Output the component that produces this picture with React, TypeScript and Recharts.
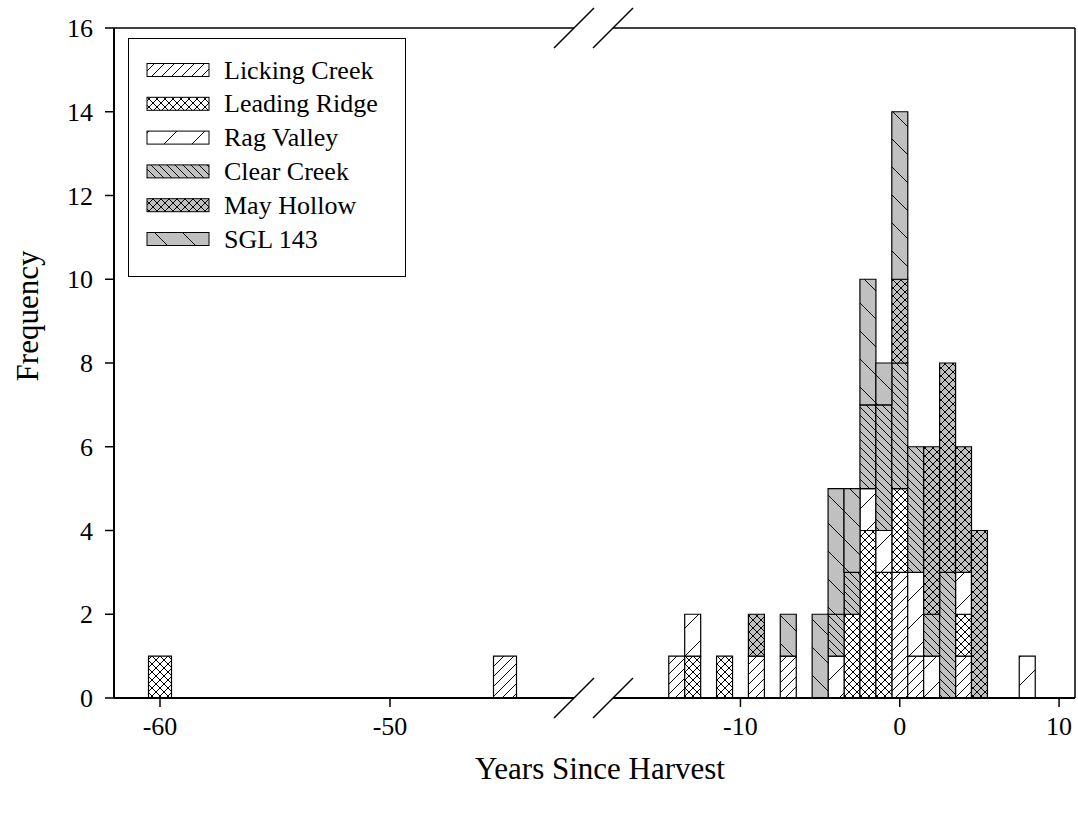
import React from "react";
import { BarChart, Bar, XAxis, YAxis, ReferenceLine } from "recharts";

// one-year bins, split into an early segment and a recent segment (broken x axis)
const farYears = [-60, -59, -58, -57, -56, -55, -54, -53, -52, -51, -50, -49, -48, -47, -46, -45];
const farLickingCreek = [0, 0, 0, 0, 0, 0, 0, 0, 0, 0, 0, 0, 0, 0, 0, 1];
const farLeadingRidge = [1, 0, 0, 0, 0, 0, 0, 0, 0, 0, 0, 0, 0, 0, 0, 0];

const nearYears = [-14, -13, -12, -11, -10, -9, -8, -7, -6, -5, -4, -3, -2, -1, 0, 1, 2, 3, 4, 5, 6, 7, 8];
const lickingCreek = [1, 0, 0, 0, 0, 1, 0, 1, 0, 0, 0, 0, 0, 0, 3, 1, 0, 0, 1, 0, 0, 0, 0];
const leadingRidge = [0, 1, 0, 1, 0, 0, 0, 0, 0, 0, 0, 2, 4, 3, 2, 0, 0, 0, 1, 0, 0, 0, 0];
const ragValley = [0, 1, 0, 0, 0, 0, 0, 0, 0, 0, 1, 0, 1, 1, 0, 2, 1, 0, 1, 0, 0, 0, 1];
const clearCreek = [0, 0, 0, 0, 0, 0, 0, 0, 0, 0, 1, 1, 2, 3, 3, 3, 1, 3, 0, 0, 0, 0, 0];
const mayHollow = [0, 0, 0, 0, 0, 1, 0, 0, 0, 0, 0, 0, 0, 0, 2, 0, 4, 5, 3, 4, 0, 0, 0];
const sgl143 = [0, 0, 0, 0, 0, 0, 0, 1, 0, 2, 3, 2, 3, 1, 4, 0, 0, 0, 0, 0, 0, 0, 0];

const farDomain = [-62, -42];
const nearDomain = [-18, 11];
const farTicks = [-60, -50];
const nearTicks = [-10, 0, 10];
const yTicks = [0, 2, 4, 6, 8, 10, 12, 14, 16];

const SITES = [
  { key: "lc", name: "Licking Creek", fill: "url(#hatch-lc)" },
  { key: "lr", name: "Leading Ridge", fill: "url(#hatch-lr)" },
  { key: "rv", name: "Rag Valley", fill: "url(#hatch-rv)" },
  { key: "cc", name: "Clear Creek", fill: "url(#hatch-cc)" },
  { key: "mh", name: "May Hollow", fill: "url(#hatch-mh)" },
  { key: "sgl", name: "SGL 143", fill: "url(#hatch-sgl)" },
];

const farRows = farYears.map((year, i) => ({
  year,
  lc: farLickingCreek[i],
  lr: farLeadingRidge[i],
}));

const nearRows = nearYears.map((year, i) => ({
  year,
  lc: lickingCreek[i],
  lr: leadingRidge[i],
  rv: ragValley[i],
  cc: clearCreek[i],
  mh: mayHollow[i],
  sgl: sgl143[i],
}));

const W = 1078;
const H = 813;
const PLOT_TOP = 28;
const PLOT_BOTTOM = 698;
const FAR_LEFT = 114;
const FAR_RIGHT = 574;
const NEAR_LEFT = 613;
const NEAR_RIGHT = 1075;
const FONT = '"Liberation Serif", "Times New Roman", serif';
const GRAY = "#c0c0c0";

function Hatch({ id, bg, dir, size }: { id: string; bg: string; dir: "fwd" | "back" | "cross"; size: number }) {
  const s = size;
  const fwd = `M0,${s} L${s},0 M${-s / 4},${s / 4} L${s / 4},${-s / 4} M${(3 * s) / 4},${(5 * s) / 4} L${(5 * s) / 4},${(3 * s) / 4}`;
  const back = `M0,0 L${s},${s} M${-s / 4},${(3 * s) / 4} L${s / 4},${(5 * s) / 4} M${(3 * s) / 4},${-s / 4} L${(5 * s) / 4},${s / 4}`;
  const d = dir === "fwd" ? fwd : dir === "back" ? back : `${fwd} ${back}`;
  return (
    <pattern id={id} patternUnits="userSpaceOnUse" width={s} height={s}>
      <rect width={s} height={s} fill={bg} />
      <path d={d} stroke="#000" strokeWidth={1} fill="none" />
    </pattern>
  );
}

function Patterns() {
  return (
    <svg width={0} height={0} style={{ position: "absolute" }}>
      <defs>
        <Hatch id="hatch-lc" bg="#fff" dir="fwd" size={10} />
        <Hatch id="hatch-lr" bg="#fff" dir="cross" size={8} />
        <Hatch id="hatch-rv" bg="#fff" dir="fwd" size={28} />
        <Hatch id="hatch-cc" bg={GRAY} dir="back" size={8} />
        <Hatch id="hatch-mh" bg={GRAY} dir="cross" size={8} />
        <Hatch id="hatch-sgl" bg={GRAY} dir="back" size={28} />
      </defs>
    </svg>
  );
}

const axisLine = { stroke: "#000", strokeWidth: 2 };
const tickLine = { stroke: "#000", strokeWidth: 1.5 };
const tickStyle = { fill: "#000", fontSize: 26, fontFamily: FONT };

function SiteLegend() {
  return (
    <div
      style={{
        position: "absolute",
        left: 128,
        top: 38,
        width: 276,
        height: 237,
        border: "1px solid #000",
        background: "#fff",
      }}
    >
      <svg width={276} height={237}>
        {SITES.map((s, i) => {
          const cy = 31 + i * 33.8;
          return (
            <g key={s.key}>
              <rect x={18} y={cy - 6.5} width={62} height={13} fill={s.fill} stroke="#000" strokeWidth={1} />
              <text x={95} y={cy} dominantBaseline="central" fontSize={26} fontFamily={FONT} fill="#000">
                {s.name}
              </text>
            </g>
          );
        })}
      </svg>
    </div>
  );
}

export default function App() {
  const slash = (cx: number, cy: number) => `M${cx - 20},${cy + 20} L${cx + 20},${cy - 20}`;
  return (
    <div style={{ position: "absolute", left: 0, top: 0, width: W, height: H, background: "#fff", fontFamily: FONT }}>
      <Patterns />

      {/* early segment, carries the y axis */}
      <div style={{ position: "absolute", left: 0, top: 0 }}>
        <BarChart
          width={FAR_RIGHT}
          height={H}
          data={farRows}
          margin={{ top: PLOT_TOP, right: 0, bottom: 0, left: 0 }}
          barCategoryGap={0}
        >
          <XAxis
            dataKey="year"
            type="number"
            domain={farDomain}
            ticks={farTicks}
            interval={0}
            allowDataOverflow
            height={H - PLOT_BOTTOM}
            tickSize={9}
            tickMargin={10}
            axisLine={axisLine}
            tickLine={tickLine}
            tick={tickStyle}
          />
          <YAxis
            type="number"
            domain={[0, 16]}
            ticks={yTicks}
            interval={0}
            allowDataOverflow
            width={FAR_LEFT}
            tickSize={9}
            tickMargin={12}
            axisLine={axisLine}
            tickLine={tickLine}
            tick={tickStyle}
          />
          <ReferenceLine y={16} stroke="#000" strokeWidth={1.5} />
          {SITES.slice(0, 2).map((s) => (
            <Bar
              key={s.key}
              dataKey={s.key}
              name={s.name}
              stackId="sites"
              fill={s.fill}
              stroke="#000"
              strokeWidth={1.2}
              isAnimationActive={false}
            />
          ))}
        </BarChart>
      </div>

      {/* recent segment */}
      <div style={{ position: "absolute", left: NEAR_LEFT, top: 0 }}>
        <BarChart
          width={W - NEAR_LEFT}
          height={H}
          data={nearRows}
          margin={{ top: PLOT_TOP, right: W - NEAR_RIGHT, bottom: 0, left: 0 }}
          barCategoryGap={0}
        >
          <XAxis
            dataKey="year"
            type="number"
            domain={nearDomain}
            ticks={nearTicks}
            interval={0}
            allowDataOverflow
            height={H - PLOT_BOTTOM}
            tickSize={9}
            tickMargin={10}
            axisLine={axisLine}
            tickLine={tickLine}
            tick={tickStyle}
          />
          <YAxis type="number" domain={[0, 16]} ticks={yTicks} hide allowDataOverflow />
          <ReferenceLine y={16} stroke="#000" strokeWidth={1.5} />
          <ReferenceLine x={11} stroke="#000" strokeWidth={1.5} />
          {SITES.map((s) => (
            <Bar
              key={s.key}
              dataKey={s.key}
              name={s.name}
              stackId="sites"
              fill={s.fill}
              stroke="#000"
              strokeWidth={1.2}
              isAnimationActive={false}
            />
          ))}
        </BarChart>
      </div>

      <SiteLegend />

      {/* axis titles and break marks */}
      <svg width={W} height={H} style={{ position: "absolute", left: 0, top: 0, pointerEvents: "none" }}>
        <text
          x={27}
          y={316}
          transform="rotate(-90 27 316)"
          textAnchor="middle"
          dominantBaseline="central"
          fontSize={31}
          fontFamily={FONT}
          fill="#000"
        >
          Frequency
        </text>
        <text x={600} y={779} textAnchor="middle" fontSize={31} fontFamily={FONT} fill="#000">
          Years Since Harvest
        </text>
        <path
          d={[
            slash(FAR_RIGHT, PLOT_BOTTOM),
            slash(NEAR_LEFT, PLOT_BOTTOM),
            slash(FAR_RIGHT, PLOT_TOP),
            slash(NEAR_LEFT, PLOT_TOP),
          ].join(" ")}
          stroke="#000"
          strokeWidth={1.5}
          fill="none"
        />
      </svg>
    </div>
  );
}
